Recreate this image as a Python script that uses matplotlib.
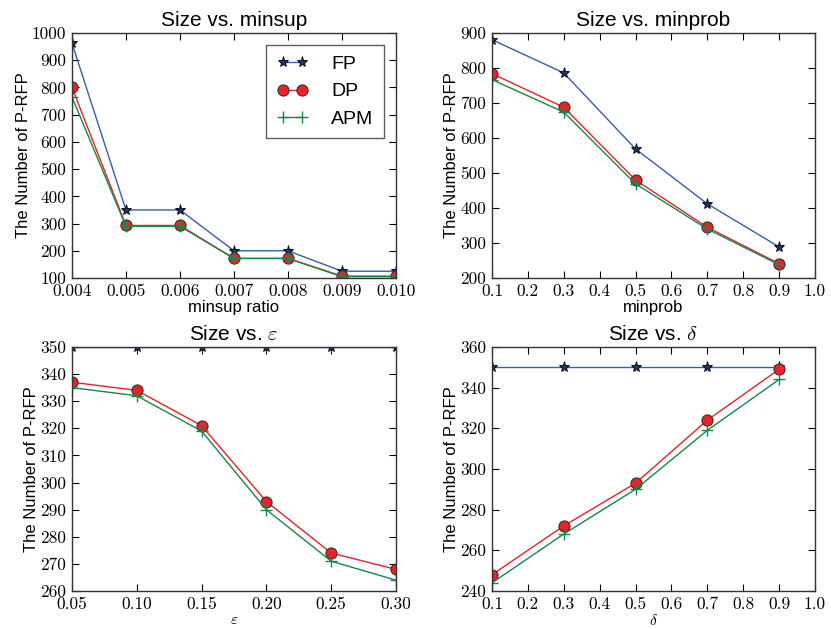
import matplotlib
matplotlib.use('Agg')
import matplotlib.pyplot as plt
from matplotlib.ticker import FormatStrFormatter, MultipleLocator

plt.rcParams['font.family'] = ['Liberation Sans', 'DejaVu Sans']
plt.rcParams['mathtext.fontset'] = 'cm'

# data
minsup = [0.004, 0.005, 0.006, 0.007, 0.008, 0.009, 0.010]
minsup_fp = [963, 350, 350, 200, 200, 125, 125]
minsup_dp = [800, 293, 293, 172, 172, 107, 107]
minsup_apm = [765, 290, 290, 172, 172, 105, 105]

minprob = [0.1, 0.3, 0.5, 0.7, 0.9]
minprob_fp = [881, 786, 569, 412, 289]
minprob_dp = [784, 688, 480, 345, 241]
minprob_apm = [767, 674, 469, 340, 238]

eps = [0.05, 0.10, 0.15, 0.20, 0.25, 0.30]
eps_fp = [350, 350, 350, 350, 350, 350]
eps_dp = [337, 334, 321, 293, 274, 268]
eps_apm = [335, 332, 319, 290, 271, 264]

delta = [0.1, 0.3, 0.5, 0.7, 0.9]
delta_fp = [350, 350, 350, 350, 350]
delta_dp = [248, 272, 293, 324, 349]
delta_apm = [244, 268, 290, 319, 344]

BLUE = '#3a5cad'
RED = '#ee2026'
GREEN = '#14884a'


def draw(ax, x, fp, dp, apm):
    ax.plot(x, fp, '-*', color=BLUE, lw=1, ms=8, mfc='#1d3470', mec='black', mew=0.6, label='FP')
    ax.plot(x, dp, '-o', color=RED, lw=1, ms=8, mfc=RED, mec='#333333', mew=0.8, label='DP')
    ax.plot(x, apm, '-+', color=GREEN, lw=1, ms=9, mew=1, label='APM')


def style(ax, title, xlabel, xfmt, yfmt, xsize=12):
    ax.set_title(title, fontsize=15, pad=5)
    ax.set_xlabel(xlabel, fontsize=xsize, labelpad=1)
    ax.set_ylabel('The Number of P-RFP', fontsize=12, labelpad=1)
    ax.tick_params(direction='in', top=True, right=True, length=5, width=0.8, labelsize=12.5, pad=4)
    ax.xaxis.set_major_formatter(FormatStrFormatter(xfmt))
    ax.yaxis.set_major_formatter(FormatStrFormatter(yfmt))
    # computer modern tick labels like the old tex-style figure
    for lab in ax.get_xticklabels() + ax.get_yticklabels():
        lab.set_fontfamily('cmr10')
    for s in ax.spines.values():
        s.set_linewidth(1.0)
        s.set_color('#333333')


fig = plt.figure(figsize=(8.31, 6.29), dpi=100)
ax1 = fig.add_axes([0.0866, 0.558, 0.3899, 0.3895])
ax2 = fig.add_axes([0.592, 0.558, 0.3887, 0.3895])
ax3 = fig.add_axes([0.0866, 0.0604, 0.3899, 0.388])
ax4 = fig.add_axes([0.592, 0.0604, 0.3887, 0.388])

draw(ax1, minsup, minsup_fp, minsup_dp, minsup_apm)
ax1.set_xlim(0.004, 0.010)
ax1.set_ylim(100, 1000)
ax1.xaxis.set_major_locator(MultipleLocator(0.001))
ax1.yaxis.set_major_locator(MultipleLocator(100))
style(ax1, 'Size vs. minsup', 'minsup ratio', '%.3f', '%d')
leg = ax1.legend(loc='upper right', numpoints=2, fontsize=14, frameon=True, fancybox=False,
                 borderpad=0.55, handlelength=1.6, handletextpad=1.2, labelspacing=0.5,
                 borderaxespad=0.6)
leg.get_frame().set_edgecolor('#333333')
leg.get_frame().set_linewidth(1.0)

draw(ax2, minprob, minprob_fp, minprob_dp, minprob_apm)
ax2.set_xlim(0.1, 1.0)
ax2.set_ylim(200, 900)
ax2.xaxis.set_major_locator(MultipleLocator(0.1))
ax2.yaxis.set_major_locator(MultipleLocator(100))
style(ax2, 'Size vs. minprob', 'minprob', '%.1f', '%d')

draw(ax3, eps, eps_fp, eps_dp, eps_apm)
ax3.set_xlim(0.05, 0.30)
ax3.set_ylim(260, 350)
ax3.xaxis.set_major_locator(MultipleLocator(0.05))
ax3.yaxis.set_major_locator(MultipleLocator(10))
style(ax3, r'Size vs. $\varepsilon$', r'$\varepsilon$', '%.2f', '%d', xsize=11)

draw(ax4, delta, delta_fp, delta_dp, delta_apm)
ax4.set_xlim(0.1, 1.0)
ax4.set_ylim(240, 360)
ax4.xaxis.set_major_locator(MultipleLocator(0.1))
ax4.yaxis.set_major_locator(MultipleLocator(20))
style(ax4, r'Size vs. $\delta$', r'$\delta$', '%.1f', '%d', xsize=11)

fig.savefig('out.png', dpi=100)
